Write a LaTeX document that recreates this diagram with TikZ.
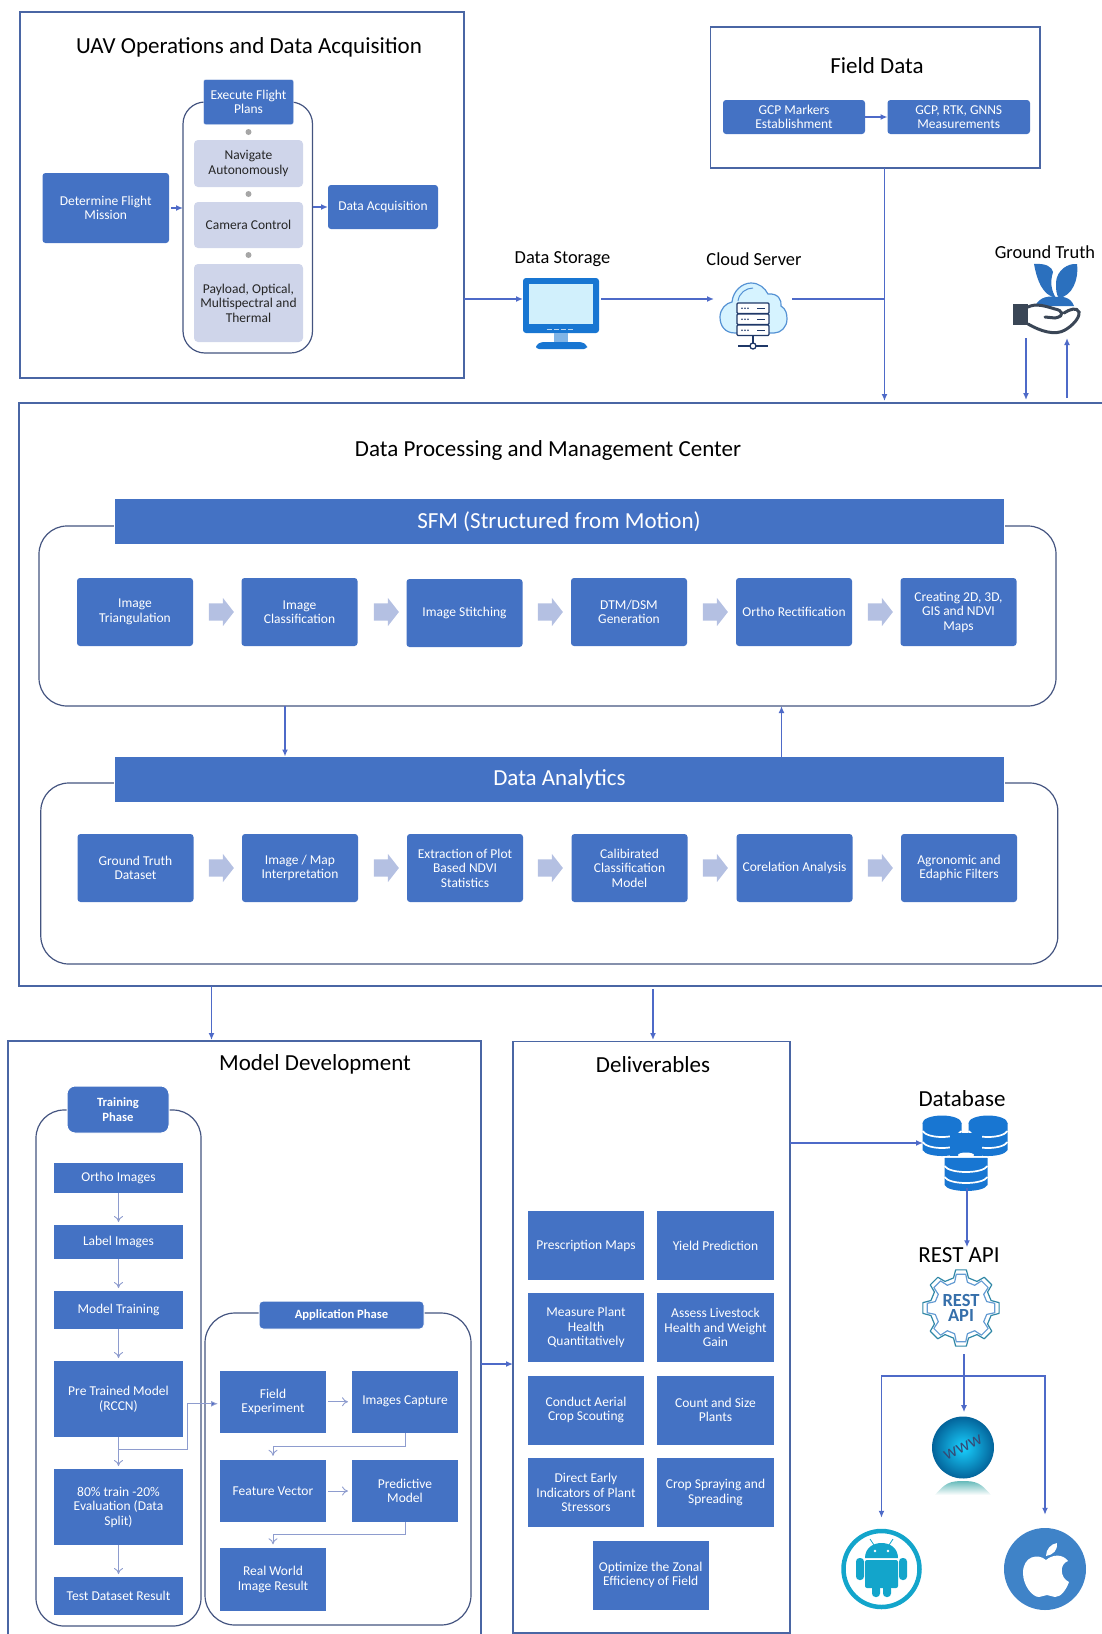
\documentclass[tikz,border=0pt]{standalone}
\usepackage{fontspec}
\setmainfont{Carlito}
\usepackage{xcolor}
\definecolor{officeblue}{RGB}{68,114,196}
\definecolor{paleblue}{RGB}{207,213,234}
\definecolor{framegrey}{RGB}{74,102,164}
\definecolor{loopdark}{RGB}{68,84,128}
\definecolor{linkblue}{RGB}{78,106,200}
\definecolor{thinblue}{RGB}{142,156,206}
\definecolor{arrowpale}{RGB}{180,192,226}
\definecolor{iconblue}{RGB}{24,118,210}
\definecolor{leafblue}{RGB}{43,112,190}
\definecolor{handdark}{RGB}{58,70,86}
\definecolor{serverdark}{RGB}{31,56,104}
\definecolor{droidteal}{RGB}{19,165,203}
\definecolor{appleblue}{RGB}{63,131,200}
\usepackage{tikz}
\usetikzlibrary{shapes,arrows,arrows.meta,positioning,calc}
\tikzset{
    size/.style 2 args={minimum width=#1,minimum height=#2},
    bluebox/.style={fill=officeblue,text=white,align=center,inner sep=0pt,outer sep=0pt,
        font=\fontsize{13.5}{14.5}\selectfont},
    softbox/.style={bluebox,rounded corners=3},
    palebox/.style={fill=paleblue,text=black!85,align=center,inner sep=0pt,outer sep=0pt,
        rounded corners=4,font=\fontsize{13.5}{14.5}\selectfont},
    pillbox/.style={bluebox,draw=white,line width=1,font=\bfseries\fontsize{12.6}{15}\selectfont},
    bannerbox/.style={bluebox,draw=white,line width=1,font=\fontsize{23}{26}\selectfont},
    frame/.style={draw=framegrey,line width=1.5,inner sep=0pt,outer sep=0pt},
    loopbox/.style={draw=loopdark,line width=1.2,rounded corners=#1,inner sep=0pt,outer sep=0pt},
    heading/.style={inner sep=0pt,text=black,font=\fontsize{23}{26}\selectfont},
    icontitle/.style={inner sep=0pt,text=black,font=\fontsize{18.4}{20}\selectfont},
    anchorbox/.style={inner sep=0pt,outer sep=0pt},
    conn/.style={draw=linkblue,line width=1.4,-{Latex[length=7pt,width=6pt]}},
    thinconn/.style={draw=thinblue,line width=0.9,-{To[length=6pt,width=9pt]}},
    blockarrow/.style={single arrow,fill=arrowpale,inner xsep=0pt,inner ysep=8.5pt,minimum width=28,minimum height=25,
        single arrow head extend=5.5,single arrow tip angle=104},
}
\newcommand{\gearoutline}[2]{(#2:0) ++(-14:#2) \foreach \a in {0,45,...,315} {
    -- ({\a-14}:#2) -- ({\a-8}:#1) -- ({\a+8}:#1) -- ({\a+14}:#2)} -- cycle}
\newcommand{\dbstack}[4]{
    \fill[iconblue] (#1-#3,#2) -- (#1-#3,#2+27) .. controls (#1-#3+4,#2+35) and (#1+#3-4,#2+35) .. (#1+#3,#2+27)
        -- (#1+#3,#2) -- cycle;
    \fill[iconblue] (#1,#2) ellipse ({#3} and {#4});
    \draw[white,line width=1.7] (#1-#3,#2+8) .. controls (#1-#3+5,#2+16) and (#1+#3-5,#2+16) .. (#1+#3,#2+8);
    \draw[white,line width=1.7] (#1-#3,#2+19) .. controls (#1-#3+5,#2+27) and (#1+#3-5,#2+27) .. (#1+#3,#2+19);
}
\begin{document}
\begin{tikzpicture}[x=1pt,y=-1pt]
    \useasboundingbox (0,0) rectangle (1102,1634);

    \node[frame,size={444}{366}] (uav) at (242,195) {};
    \node[heading] (uavtitle) at (249,47) {UAV Operations and Data Acquisition};
    \node[loopbox=22,size={129.5}{251}] (uavloop) at (247.75,227.5) {};
    \node[softbox,draw=white,size={90}{45},rounded corners=2] (execplan) at (248.5,102) {Execute Flight\\Plans};
    \node[palebox,size={109}{47}] (navigate) at (248.5,163.5) {Navigate\\Autonomously};
    \node[palebox,size={109}{46}] (camera) at (248.5,225) {Camera Control};
    \node[palebox,size={109}{78}] (payload) at (248.5,303) {Payload, Optical,\\Multispectral and\\Thermal};
    \foreach \i/\y in {1/132,2/194,3/255}
        \node[circle,fill=black!35,inner sep=0pt,minimum size=6] (uavdot\i) at (248.5,\y) {};
    \node[softbox,size={126.5}{70}] (determine) at (105.75,208) {Determine Flight\\Mission};
    \node[softbox,size={110}{44}] (acquire) at (383,207) {Data Acquisition};
    \draw[conn] (determine.east) ++(2,0) -- (determine.east -| uavloop.west);
    \draw[conn] (acquire.west -| uavloop.east) -- (acquire.west);

    \node[frame,size={329.5}{141}] (field) at (875.25,97.5) {};
    \node[heading] (fieldtitle) at (877,66) {Field Data};
    \node[softbox,size={142}{34}] (gcpmark) at (794,117) {GCP Markers\\Establishment};
    \node[softbox,size={142.5}{34}] (gcpmeas) at (958.75,117) {GCP, RTK, GNNS\\Measurements};
    \draw[conn] (gcpmark) -- (gcpmeas);

    \node[icontitle] (storagetitle) at (562.5,259) {Data Storage};
    \node[anchorbox,size={78}{42}] (storage) at (562,299) {};
    \fill[iconblue,rounded corners=3] (523,278) rectangle (599,333);
    \fill[cyan!18] (529,284) rectangle (593,324);
    \foreach \x in {549,556,563,570}
        \draw[white!70!iconblue,line width=1] (\x-2.5,329) -- (\x+2.5,329);
    \fill[iconblue!55] (554,333) rectangle (568,342);
    \fill[iconblue,rounded corners=3] (536,349) -- (536,345) -- (541,342) -- (582,342) -- (587,345) -- (587,349) -- cycle;

    \node[icontitle] (cloudtitle) at (754,259) {Cloud Server};
    \node[anchorbox,size={78}{34}] (cloudsrv) at (753,299) {};
    \draw[draw=cyan!55!blue!70,fill=blue!30!cyan!16,line width=1.2] (735,333) .. controls (725,333) and (720,326) .. (720,317)
        .. controls (720,309) and (726,303) .. (732,302) .. controls (733,291) and (742,283) .. (751,283)
        .. controls (759,283) and (765,288) .. (768,294) .. controls (778,293) and (782,300) .. (781,306)
        .. controls (786,309) and (787,314) .. (787,319) .. controls (787,327) and (781,333) .. (774,333) -- cycle;
    \draw[cyan!55!blue!70,line width=1] (738,301) .. controls (739,293) and (746,288) .. (753,288);
    \foreach \y in {303,314,325} {
        \draw[serverdark,fill=white,line width=1.3,rounded corners=1] (737,\y) rectangle (769,\y+10.5);
        \foreach \x in {742,745,748} \fill[serverdark] (\x,\y+5.2) circle (0.9);
        \draw[serverdark,line width=1.3] (757,\y+5.2) -- (765,\y+5.2);
    }
    \draw[serverdark,line width=1.3] (753,336) -- (753,346) (738,346) -- (768,346);
    \draw[serverdark,fill=white,line width=1.3] (753,346) circle (3);

    \node[icontitle] (gttitle) at (1045,252) {Ground Truth};
    \node[anchorbox,size={68}{73}] (gticon) at (1046,299.5) {};
    \fill[leafblue] (1034,264) .. controls (1046,263) and (1052,267) .. (1053,272)
        .. controls (1050,282) and (1051,290) .. (1056,298) .. controls (1042,295) and (1037,280) .. (1034,264) -- cycle;
    \fill[leafblue] (1077,264) .. controls (1068,263) and (1057,270) .. (1056,282)
        .. controls (1056,290) and (1056,294) .. (1059,298) .. controls (1072,296) and (1079,280) .. (1077,264) -- cycle;
    \fill[leafblue] (1035,306) .. controls (1040,296) and (1050,296) .. (1055,297)
        .. controls (1062,296) and (1071,297) .. (1074,306) -- cycle;
    \fill[handdark] (1013,304) rectangle (1028,325);
    \draw[handdark,line width=3,line cap=round] (1028,307) .. controls (1036,303) and (1045,306) .. (1055,309)
        .. controls (1062,310) and (1066,316) .. (1055,318) -- (1045,317);
    \draw[handdark,line width=3,line cap=round] (1028,324) .. controls (1040,331) and (1055,336) .. (1065,330)
        .. controls (1072,326) and (1080,318) .. (1079,312) .. controls (1077,307) and (1070,309) .. (1064,313);

    \node[frame,size={1085}{583}] (process) at (561.5,694.5) {};
    \node[heading] (processtitle) at (548,450) {Data Processing and Management Center};

    \node[loopbox=28,size={1017}{180}] (sfmloop) at (547.5,616) {};
    \node[bannerbox,size={890}{46}] (sfmbanner) at (559,521.5) {SFM (Structured from Motion)};
    \node[softbox,size={116}{68}] (triang) at (135,612) {Image\\Triangulation};
    \node[softbox,size={116}{68}] (classify) at (299.5,612) {Image\\Classification};
    \node[softbox,size={116}{68}] (stitch) at (464.5,613) {Image Stitching};
    \node[softbox,size={116}{68}] (dtmdsm) at (629,612) {DTM/DSM\\Generation};
    \node[softbox,size={116}{68}] (ortho) at (794,612) {Ortho Rectification};
    \node[softbox,size={116}{68}] (maps) at (958.5,612) {Creating 2D, 3D,\\GIS and NDVI\\Maps};
    \foreach \i/\x in {1/218,2/383,3/547,4/712,5/877}
        \node[blockarrow] (sfmstep\i) at (\x,612) {};

    \node[loopbox=28,size={1017}{181}] (daloop) at (549.3,873.5) {};
    \node[bannerbox,size={890}{46}] (dabanner) at (559.5,779.5) {Data Analytics};
    \node[softbox,size={116}{68}] (gtdata) at (135.5,868) {Ground Truth\\Dataset};
    \node[softbox,size={116}{68}] (interpret) at (300,868) {Image / Map\\Interpretation};
    \node[softbox,size={116}{68}] (extract) at (465,868) {Extraction of Plot\\Based NDVI\\Statistics};
    \node[softbox,size={116}{68}] (calib) at (629.5,868) {Calibirated\\Classification\\Model};
    \node[softbox,size={116}{68}] (corel) at (794.5,868) {Corelation Analysis};
    \node[softbox,size={116}{68}] (filters) at (959,868) {Agronomic and\\Edaphic Filters};
    \foreach \i/\x in {1/218,2/383,3/547,4/712,5/877}
        \node[blockarrow] (dastep\i) at (\x,868) {};

    \node[frame,size={473}{603}] (model) at (244.5,1342.5) {};
    \node[heading] (modeltitle) at (315,1064) {Model Development};
    \node[loopbox=28,size={165}{516}] (trainloop) at (118.5,1368) {};
    \node[pillbox,rounded corners=8,size={102}{47}] (trainpill) at (118,1109.5) {Training\\Phase};
    \node[bluebox,size={129}{30}] (orthoimg) at (118.5,1178) {Ortho Images};
    \node[bluebox,size={129}{34}] (labelimg) at (118.5,1242) {Label Images};
    \node[bluebox,size={129}{38}] (modeltrain) at (118.5,1310) {Model Training};
    \node[bluebox,size={129}{76}] (pretrained) at (118.5,1399) {Pre Trained Model\\(RCCN)};
    \node[bluebox,size={129}{76}] (splitdata) at (118.5,1507) {80\% train -20\%\\Evaluation (Data\\Split)};
    \node[bluebox,size={129}{38}] (testresult) at (118.5,1596) {Test Dataset Result};
    \draw[thinconn,shorten >=3pt] (orthoimg) -- (labelimg);
    \draw[thinconn,shorten >=3pt] (labelimg) -- (modeltrain);
    \draw[thinconn,shorten >=3pt] (modeltrain) -- (pretrained);
    \draw[thinconn,shorten >=3pt] (pretrained) -- (splitdata);
    \draw[thinconn,shorten >=3pt] (splitdata) -- (testresult);

    \node[loopbox=30,size={266}{312}] (applyloop) at (338,1469) {};
    \node[pillbox,rounded corners=4,size={165}{28}] (applypill) at (341.5,1315) {Application Phase};
    \node[bluebox,size={106}{62.5}] (fieldexp) at (273,1401.75) {Field\\Experiment};
    \node[bluebox,size={106}{62.5}] (capture) at (405,1401.75) {Images Capture};
    \node[bluebox,size={106}{62.5}] (feature) at (273,1491) {Feature Vector};
    \node[bluebox,size={106}{62.5}] (predict) at (405,1491) {Predictive\\Model};
    \node[bluebox,size={106}{62.5}] (realworld) at (273,1579.5) {Real World\\Image Result};
    \draw[thinconn,shorten <=2pt,shorten >=4pt] (fieldexp) -- (capture);
    \draw[thinconn,shorten <=2pt,shorten >=4pt] (feature) -- (predict);
    \coordinate (capturedrop) at (405,1446);
    \coordinate (predictdrop) at (405,1534.5);
    \coordinate (splitbend) at (187,1449);
    \draw[thinconn] (capture.south) -- (capturedrop) -| ($(feature.north)+(0,-4)$);
    \draw[thinconn] (predict.south) -- (predictdrop) -| ($(realworld.north)+(0,-4)$);
    \draw[draw=thinblue,line width=0.9,-{Latex[length=7pt,width=6pt,fill=linkblue]}] (pretrained.south |- splitbend) -- (splitbend) |- ($(fieldexp.west)+(-2,2)$);

    \node[frame,size={277}{591.5}] (delivers) at (651.5,1337.25) {};
    \node[heading] (deliverstitle) at (653,1064.5) {Deliverables};
    \node[bluebox,size={116.5}{69}] (prescribe) at (586,1245.5) {Prescription Maps};
    \node[bluebox,size={116.5}{69}] (yieldpred) at (715.5,1245.5) {Yield Prediction};
    \node[bluebox,size={116.5}{69}] (plantheal) at (586,1327.5) {Measure Plant\\Health\\Quantitatively};
    \node[bluebox,size={116.5}{69}] (livestock) at (715.5,1327.5) {Assess Livestock\\Health and Weight\\Gain};
    \node[bluebox,size={116.5}{69}] (scouting) at (586,1410) {Conduct Aerial\\Crop Scouting};
    \node[bluebox,size={116.5}{69}] (countsize) at (715.5,1410) {Count and Size\\Plants};
    \node[bluebox,size={116.5}{69}] (stressor) at (586,1492.5) {Direct Early\\Indicators of Plant\\Stressors};
    \node[bluebox,size={116.5}{69}] (spraying) at (715.5,1492.5) {Crop Spraying and\\Spreading};
    \node[bluebox,size={116}{69}] (zonal) at (650.7,1575) {Optimize the Zonal\\Efficiency of Field};

    \node[heading] (dbtitle) at (962,1099) {Database};
    \node[anchorbox,size={84}{72}] (dbicon) at (967,1152) {};
    \dbstack{942}{1123}{19.5}{7.5}
    \dbstack{988}{1123}{19.5}{7.5}
    \fill[iconblue] (950,1133) rectangle (982,1156);
    \fill[white] (966,1155) ellipse (8 and 2.5);
    \dbstack{966}{1158}{21.5}{0.1}

    \node[heading] (resttitle) at (959,1255) {REST API};
    \node[circle,inner sep=0pt,minimum size=78,align=center,text=appleblue!85!black,font=\bfseries\fontsize{18.5}{15.5}\selectfont] (restgear) at (961,1308) {REST\\API};
    \draw[loopdark!70!cyan,line width=1.2,line join=round,shift={(restgear.center)}] \gearoutline{38.5}{31};
    \draw[appleblue!80,line width=1.2,line join=round,shift={(restgear.center)}] \gearoutline{34}{26.5};

    \node[circle,inner sep=0pt,minimum size=62,inner color=cyan!80!blue!90,outer color=cyan!60!blue!55!black,rotate=25,
        text=serverdark!90,font=\fontsize{19}{20}\selectfont] (webball) at (963,1447.5) {www};
    \shade[top color=black!45!cyan!60,bottom color=white] (935,1495) .. controls (945,1483) and (950,1481) .. (963,1481)
        .. controls (976,1481) and (981,1483) .. (991,1495) -- cycle;

    \node[circle,draw=droidteal,line width=4.5,inner sep=0pt,minimum size=76] (droid) at (881.5,1569) {};
    \fill[droidteal] (865,1558) .. controls (865,1548) and (873,1543) .. (881.5,1543)
        .. controls (890,1543) and (898,1548) .. (898,1558) -- cycle;
    \fill[droidteal,rounded corners=2] (865,1560) rectangle (898,1588);
    \fill[droidteal,rounded corners=3.5] (856,1558) rectangle (864,1580);
    \fill[droidteal,rounded corners=3.5] (899,1558) rectangle (907,1580);
    \fill[droidteal,rounded corners=3.5] (872,1585) rectangle (880,1597);
    \fill[droidteal,rounded corners=3.5] (883,1585) rectangle (891,1597);
    \fill[white] (875,1551) circle (1.3) (888,1551) circle (1.3);
    \draw[droidteal,line width=0.8] (874,1545) -- (870,1539) (889,1545) -- (893,1539);

    \node[circle,fill=appleblue,inner sep=0pt,minimum size=82] (apple) at (1045,1569) {};
    \fill[white] (1046,1560) .. controls (1038,1553) and (1023,1556) .. (1023,1573)
        .. controls (1023,1585) and (1032,1597) .. (1039,1597) .. controls (1042,1597) and (1044,1595) .. (1047,1595)
        .. controls (1050,1595) and (1052,1597) .. (1055,1597) .. controls (1061,1597) and (1066,1590) .. (1069,1582)
        .. controls (1060,1578) and (1059,1564) .. (1068,1561) .. controls (1063,1554) and (1053,1554) .. (1046,1560) -- cycle;
    \fill[white] (1046,1556) .. controls (1046,1549) and (1051,1544) .. (1057,1543)
        .. controls (1058,1550) and (1053,1555) .. (1046,1556) -- cycle;

    \draw[conn] (uav.east |- storage) -- (storage.west);
    \draw[conn] (storage.east) -- (cloudsrv.west);
    \coordinate (junction) at (884.5,299);
    \draw[draw=linkblue,line width=1.4] (cloudsrv.east) -- (junction);
    \draw[conn,shorten >=2pt] (field.south -| junction) -- (junction) -- (process.north -| junction);
    \coordinate (gtdown) at (1026,338);
    \coordinate (gtup) at (1067,338);
    \draw[conn,shorten >=3pt] (gtdown) -- (gtdown |- process.north);
    \draw[conn,shorten <=5pt] (gtup |- process.north) -- (gtup);
    \coordinate (sfmdown) at (285,706);
    \coordinate (sfmup) at (781.5,706);
    \draw[conn] (sfmdown) -- (sfmdown |- dabanner.north);
    \draw[conn] (sfmup |- dabanner.north) -- (sfmup);
    \coordinate (modelin) at (211.5,1041);
    \coordinate (delivin) at (653,1041);
    \draw[conn,shorten >=1pt] (modelin |- process.south) -- (modelin);
    \draw[conn,shorten >=1pt,shorten <=3pt] (delivin |- process.south) -- (delivin);
    \coordinate (modelout) at (481,1364);
    \draw[conn] (modelout) -- (modelout -| delivers.west);
    \coordinate (dbin) at (923,1143);
    \draw[conn] (delivers.east |- dbin) -- (dbin);
    \draw[conn] (dbicon.south) -- (resttitle.north -| dbicon.south);
    \coordinate (restsplit) at (964,1376);
    \draw[conn,shorten >=7pt] ($(restgear.south)+(3,7)$) -- (restsplit) -- (restsplit |- webball.north);
    \draw[conn,shorten >=11pt] (restsplit) -| (droid.north);
    \draw[conn,shorten >=13pt] (restsplit) -| (apple.north);
\end{tikzpicture}
\end{document}
